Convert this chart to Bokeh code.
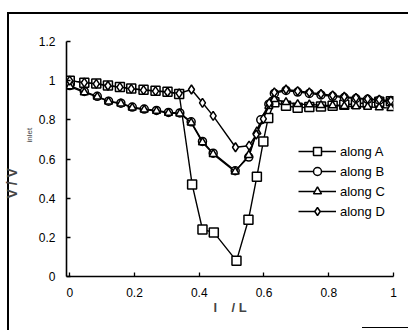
from bokeh.plotting import figure
from bokeh.models import FixedTicker, CustomJSTickFormatter, Title, Range1d
from bokeh.embed import file_html
from bokeh.resources import INLINE

# ---- data ----
xA = [0, 0.045, 0.082, 0.118, 0.155, 0.19, 0.228, 0.265, 0.302, 0.338, 0.378, 0.41, 0.445,
      0.515, 0.552, 0.578, 0.598, 0.613, 0.632, 0.668, 0.704, 0.74, 0.776, 0.812, 0.848,
      0.884, 0.92, 0.956, 0.992]
yA = [1.0, 0.99, 0.985, 0.975, 0.968, 0.96, 0.953, 0.948, 0.943, 0.932, 0.47, 0.24, 0.225,
      0.08, 0.29, 0.51, 0.69, 0.81, 0.89, 0.872, 0.862, 0.865, 0.868, 0.872, 0.877,
      0.882, 0.887, 0.892, 0.895]

xB = [0, 0.045, 0.085, 0.12, 0.158, 0.193, 0.23, 0.268, 0.305, 0.34, 0.375, 0.41, 0.443,
      0.511, 0.553, 0.59, 0.615, 0.632, 0.668, 0.704, 0.74, 0.776, 0.812, 0.848, 0.884,
      0.92, 0.956, 0.992]
yB = [0.975, 0.945, 0.92, 0.895, 0.885, 0.865, 0.855, 0.848, 0.838, 0.835, 0.79, 0.69, 0.63,
      0.54, 0.61, 0.8, 0.88, 0.935, 0.95, 0.942, 0.935, 0.927, 0.92, 0.914, 0.909,
      0.905, 0.9, 0.895]

xC = [0, 0.045, 0.085, 0.12, 0.158, 0.193, 0.23, 0.268, 0.305, 0.34, 0.375, 0.41, 0.443,
      0.511, 0.553, 0.578, 0.615, 0.632, 0.668, 0.704, 0.74, 0.776, 0.812, 0.848, 0.884,
      0.92, 0.956, 0.992]
yC = [0.97, 0.94, 0.918, 0.893, 0.883, 0.862, 0.852, 0.845, 0.835, 0.832, 0.785, 0.685, 0.625,
      0.535, 0.62, 0.74, 0.87, 0.905, 0.89, 0.88, 0.878, 0.875, 0.873, 0.87, 0.868,
      0.866, 0.863, 0.86]

xD = [0, 0.045, 0.082, 0.118, 0.155, 0.19, 0.228, 0.265, 0.302, 0.338, 0.376, 0.41, 0.443,
      0.512, 0.554, 0.576, 0.598, 0.616, 0.632, 0.668, 0.704, 0.74, 0.776, 0.812, 0.848,
      0.884, 0.92, 0.956, 0.992]
yD = [1.0, 0.99, 0.984, 0.974, 0.967, 0.958, 0.952, 0.947, 0.942, 0.935, 0.955, 0.887, 0.82,
      0.66, 0.668, 0.725, 0.805, 0.885, 0.94, 0.955, 0.947, 0.94, 0.932, 0.925, 0.918,
      0.912, 0.907, 0.903, 0.898]

series_labels = ["along A", "along B", "along C", "along D"]
x_ticks = [0, 0.2, 0.4, 0.6, 0.8, 1.0]
y_ticks = [0, 0.2, 0.4, 0.6, 0.8, 1.0, 1.2]

FONT = "Liberation Sans"

p = figure(width=408, height=330, output_backend="svg", toolbar_location=None,
           x_range=Range1d(-0.01, 1.0), y_range=Range1d(0, 1.2),
           min_border_left=64, min_border_right=15, min_border_top=41,
           min_border_bottom=54)
p.outline_line_color = None
p.xgrid.visible = False
p.ygrid.visible = False
p.background_fill_color = "white"
p.border_fill_color = None
# outer panel frame (left and top edges, plus a short bottom-right stroke)
p.styles = {
    "background": ("linear-gradient(#000,#000) 7px 12px / 2px 318px no-repeat, "
                   "linear-gradient(#000,#000) 7px 12px / 401px 2px no-repeat, "
                   "linear-gradient(#000,#000) 362px 327px / 46px 1px no-repeat, white"),
}

fmt = CustomJSTickFormatter(code="return (Math.round(tick*10)/10).toString();")
for ax, ticks in ((p.xaxis[0], x_ticks), (p.yaxis[0], y_ticks)):
    ax.ticker = FixedTicker(ticks=ticks)
    ax.formatter = fmt
    ax.axis_line_width = 1.6
    ax.axis_line_color = "black"
    ax.major_tick_in = 4
    ax.major_tick_out = 0
    ax.major_tick_line_color = "black"
    ax.major_tick_line_width = 1.3
    ax.minor_tick_line_color = None
    ax.major_label_text_font = FONT
    ax.major_label_text_font_size = "12px"
    ax.major_label_text_color = "black"
    ax.major_label_standoff = 11

p.xaxis[0].axis_label = "l\u00a0\u00a0\u00a0\u00a0/ L"
p.xaxis[0].axis_label_text_font = FONT
p.xaxis[0].axis_label_text_font_style = "bold"
p.xaxis[0].axis_label_text_font_size = "13px"
p.xaxis[0].axis_label_standoff = 0

styles = [
    (xA, yA, "square", 9, series_labels[0]),
    (xB, yB, "circle", 8, series_labels[1]),
    (xC, yC, "triangle", 8, series_labels[2]),
    (xD, yD, "diamond", 9, series_labels[3]),
]
for xs, ys, mk, sz, lab in styles:
    p.line(xs, ys, line_color="black", line_width=1.4, legend_label=lab)
    p.scatter(xs, ys, marker=mk, size=sz, fill_color="white", line_color="black",
              line_width=1.5, legend_label=lab)

lg = p.legend[0]
lg.location = (232, 55)
lg.border_line_alpha = 0
lg.background_fill_alpha = 0
lg.padding = 0
lg.margin = 0
lg.spacing = 0
lg.label_height = 20
lg.glyph_height = 20
lg.glyph_width = 38
lg.label_standoff = 4
lg.label_text_font = FONT
lg.label_text_font_size = "13px"
lg.label_text_color = "black"

# y axis label "V / V" with subscript "inlet", as side titles
p.add_layout(Title(text="inlet", text_font=FONT, text_font_size="8px",
                   text_font_style="normal", align="left", offset=134, standoff=4), "left")
p.add_layout(Title(text="V / V", text_font=FONT, text_font_size="14px",
                   text_font_style="bold", align="left", offset=78, standoff=2), "left")

open("out.html", "w").write(file_html(p, INLINE))
